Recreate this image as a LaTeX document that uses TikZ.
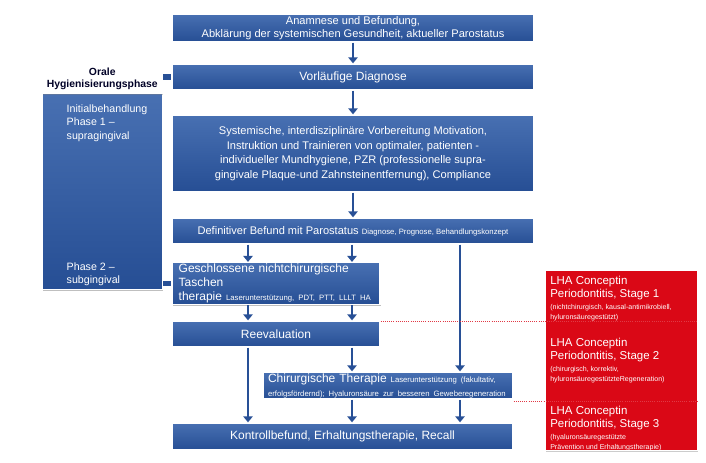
\documentclass[tikz,border=0pt]{standalone}
\usepackage{fontspec}
\setmainfont{Liberation Sans}
\usetikzlibrary{arrows.meta,shadows}
\definecolor{bluetop}{RGB}{72,112,178}
\definecolor{bluebot}{RGB}{38,78,148}
\definecolor{bluearr}{RGB}{40,80,150}
\definecolor{lhared}{RGB}{218,8,22}
\tikzset{
  box/.style={draw=white,line width=1pt,top color=bluetop,bottom color=bluebot,
    text=white,align=center,inner sep=1pt,font=\fontsize{8.3}{10.3}\selectfont,
    drop shadow={shadow xshift=0.6pt,shadow yshift=-1pt,opacity=.5}},
  arr/.style={draw=bluearr,line width=2.2pt,-{Triangle[width=7pt,length=4.5pt]}},
  dots/.style={draw=lhared!80,densely dotted,line width=.6pt},
  w/.style={minimum width=#1*0.75pt},
  h/.style={minimum height=#1*0.75pt}
}
\begin{document}
\begin{tikzpicture}[x=0.75pt,y=-0.75pt]
      \useasboundingbox (0,0) rectangle (706,462);

      % left panel
      \node[box,anchor=north west,w=120,h=196] (panel) at (42,93) {};
      \node[draw=white,fill=white,anchor=north west,w=120,h=29,inner sep=1pt,
        align=center,font=\fontsize{7.8}{9.3}\selectfont\bfseries,text=black!85!blue,
        drop shadow={shadow xshift=0.6pt,shadow yshift=-1pt,opacity=.4}] (head) at (42,64)
        {Orale\\Hygienisierungsphase};
      \node[anchor=north west,align=left,text=white,font=\fontsize{8}{10}\selectfont] (ph1) at (62,100)
        {Initialbehandlung\\Phase 1 --\\supragingival};
      \node[anchor=north west,align=left,text=white,font=\fontsize{8}{10}\selectfont] (ph2) at (62,258)
        {Phase 2 --\\subgingival};

      % main flow
      \node[box,w=362,h=28] (anam) at (353,28)
        {Anamnese und Befundung,\\Abklärung der systemischen Gesundheit, aktueller Parostatus};
      \node[box,w=362,h=26,font=\fontsize{9}{11}\selectfont] (vorl) at (353,77) {Vorläufige Diagnose};
      \node[box,w=362,h=77,font=\fontsize{8.3}{11}\selectfont] (syst) at (353,153.5)
        {Systemische, interdisziplinäre Vorbereitung Motivation,\\Instruktion und Trainieren von optimaler, patienten -\\individueller Mundhygiene, PZR (professionelle supra-\\gingivale Plaque-und Zahnsteinentfernung), Compliance};
      \node[box,w=362,h=26] (defi) at (353,231)
        {Definitiver Befund mit Parostatus {\fontsize{5.8}{6}\selectfont Diagnose, Prognose, Behandlungskonzept}};
      \node[box,w=208,h=27,align=left,text width=146pt,font=\fontsize{9}{10.5}\selectfont] (gesch) at (276,283.5)
        {Geschlossene nichtchirurgische Taschen\\therapie {\fontsize{5.8}{6}\selectfont Laserunterstützung, PDT, PTT, LLLT HA}};
      \node[box,w=208,h=26,font=\fontsize{9}{11}\selectfont] (reev) at (276,334) {Reevaluation};
      \node[box,w=250,h=27,align=left,text width=180pt,font=\fontsize{9}{10.5}\selectfont] (chir) at (388,385.5)
        {Chirurgische Therapie {\fontsize{5.8}{8}\selectfont Laserunterstützung (fakultativ,}\\{\fontsize{5.8}{6}\selectfont erfolgsfördernd); Hyaluronsäure zur besseren Geweberegeneration}};
      \node[box,w=341,h=27,font=\fontsize{9}{11}\selectfont] (kont) at (342.5,436.5)
        {Kontrollbefund, Erhaltungstherapie, Recall};

      % red panel
      \node[draw=white,line width=1pt,fill=lhared,anchor=north west,w=152,h=180,
        drop shadow={shadow xshift=0.6pt,shadow yshift=-1pt,opacity=.4}] (lha) at (545,270) {};
      \tikzset{lhatxt/.style={anchor=north west,align=left,text=white,inner sep=0pt,font=\fontsize{8.6}{10}\selectfont}}
      \node[lhatxt] (st1) at (550,276) {LHA Conceptin\\Periodontitis, Stage 1\\[-1pt]
        {\fontsize{5.3}{6}\selectfont (nichtchirurgisch, kausal-antimikrobiell,}\\[-3pt]{\fontsize{5.3}{6}\selectfont hyluronsäuregestützt)}};
      \node[lhatxt] (st2) at (550,338) {LHA Conceptin\\Periodontitis, Stage 2\\[-1pt]
        {\fontsize{5.3}{6}\selectfont (chirurgisch, korrektiv,}\\[-3pt]{\fontsize{5.3}{6}\selectfont hyluronsäuregestützteRegeneration)}};
      \node[lhatxt] (st3) at (550,406) {LHA Conceptin\\Periodontitis, Stage 3\\[-1pt]
        {\fontsize{5.3}{6}\selectfont (hyaluronsäuregestützte}\\[-3pt]{\fontsize{5.3}{6}\selectfont Prävention und Erhaltungstherapie)}};

      % columns of the arrows
      \coordinate (c0) at (353,0);
      \coordinate (c1) at (248,0);
      \coordinate (c2) at (352,0);
      \coordinate (c3) at (460,0);
      \coordinate (s1) at (0,321);
      \coordinate (s2) at (0,401);

      \draw[arr] (anam.south -| c0) -- (vorl.north -| c0);
      \draw[arr] (vorl.south -| c0) -- (syst.north -| c0);
      \draw[arr] (syst.south -| c0) -- (defi.north -| c0);
      \draw[arr] (defi.south -| c1) -- (gesch.north -| c1);
      \draw[arr] (defi.south -| c2) -- (gesch.north -| c2);
      \draw[arr] (defi.south -| c3) -- (chir.north -| c3);
      \draw[arr] (gesch.south -| c1) -- (reev.north -| c1);
      \draw[arr] (gesch.south -| c2) -- (reev.north -| c2);
      \draw[arr] (reev.south -| c1) -- (kont.north -| c1);
      \draw[arr] (reev.south -| c2) -- (chir.north -| c2);
      \draw[arr] (chir.south -| c2) -- (kont.north -| c2);
      \draw[arr] (chir.south -| c3) -- (kont.north -| c3);

      % tabs from the panel
      \draw[bluearr,line width=4pt] (panel.east |- vorl) -- (vorl.west);
      \draw[bluearr,line width=4pt] (panel.east |- gesch) -- (gesch.west);

      % dotted separators
      \draw[dots] (reev.north east |- s1) -- (lha.east |- s1);
      \draw[dots] (chir.east |- s2) -- (lha.east |- s2);
\end{tikzpicture}
\end{document}
